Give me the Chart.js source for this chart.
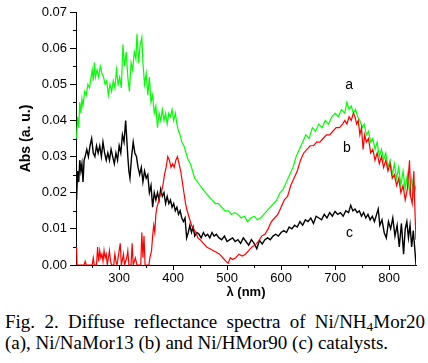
<!DOCTYPE html>
<html>
<head>
<meta charset="utf-8">
<script src="https://cdn.jsdelivr.net/npm/chart.js@4.4.1/dist/chart.umd.min.js"></script>
<style>
  html, body { margin: 0; padding: 0; background: #fff; }
  #wrap { position: relative; width: 428px; height: 363px; overflow: hidden; }
  #chart { position: absolute; left: 0; top: 0; }
  .caption { position: absolute; left: 5px; top: 311px; width: 420px;
    font-family: "Liberation Serif", "Times New Roman", serif; font-size: 19px; line-height: 21px; color: #000; }
  .caption .l1 { text-align: justify; text-align-last: justify; }
  .caption sub { font-size: 0.7em; line-height: 0; vertical-align: -0.25em; }
</style>
</head>
<body>
<div id="wrap">
  <canvas id="chart" width="428" height="300"></canvas>
  <div class="caption">
    <div class="l1">Fig. 2. Diffuse reflectance spectra of Ni/NH<sub>4</sub>Mor20</div>
    <div>(a), Ni/NaMor13 (b) and Ni/HMor90 (c) catalysts.</div>
  </div>
</div>
<script>
// wavelength (nm) / absorbance
const lambdaA = [221,223,225,227,229,231,233,236,239,242,245,248,250,252,254,256,259,262,265,268,271,274,277,280,283,286,289,292,295,298,301,304,307,310,313,316,319,322,325,328,331,333,336,339,342,344,347,350,353,356,359,362,365,368,371,374,377,380,383,386,389,392,395,398,401,404,407,410,413,416,420,424,428,432,436,440,445,450,455,460,466,472,478,484,490,496,502,508,514,520,526,532,538,544,550,556,562,568,574,580,586,592,598,604,610,616,622,628,634,640,646,652,658,664,670,676,682,688,694,700,706,712,718,722,726,730,734,738,742,746,750,754,758,762,766,770,774,778,782,786,790,794,798,802,806,810,814,818,822,826,830,834,838,842,846,850];
const absA = [0.035,0.041,0.038,0.045,0.042,0.046,0.044,0.048,0.047,0.050,0.049,0.052,0.054,0.051,0.056,0.052,0.054,0.052,0.055,0.053,0.052,0.050,0.051,0.047,0.050,0.048,0.051,0.049,0.054,0.050,0.052,0.049,0.061,0.055,0.059,0.052,0.048,0.056,0.054,0.059,0.057,0.064,0.056,0.061,0.063,0.056,0.050,0.053,0.047,0.052,0.045,0.047,0.042,0.044,0.038,0.042,0.040,0.043,0.040,0.042,0.039,0.042,0.041,0.043,0.040,0.042,0.039,0.037,0.036,0.034,0.033,0.031,0.029,0.028,0.026,0.024,0.023,0.022,0.021,0.020,0.019,0.018,0.017,0.017,0.016,0.015,0.015,0.014,0.0145,0.014,0.013,0.0135,0.012,0.013,0.0135,0.0125,0.013,0.014,0.015,0.016,0.017,0.018,0.020,0.021,0.023,0.025,0.027,0.030,0.032,0.034,0.036,0.035,0.038,0.037,0.039,0.038,0.040,0.039,0.041,0.042,0.041,0.043,0.042,0.045,0.043,0.044,0.042,0.043,0.041,0.040,0.038,0.039,0.036,0.037,0.034,0.035,0.032,0.034,0.030,0.032,0.029,0.031,0.027,0.029,0.025,0.028,0.024,0.027,0.022,0.026,0.021,0.025,0.020,0.024,0.019,0.022];

const lambdaB = [221,222,235,237,239,250,252,254,258,260,262,264,266,268,270,272,274,276,278,280,282,284,286,290,292,294,296,300,302,304,308,310,314,316,318,322,324,326,330,333,340,342,344,346,348,355,357,360,362,364,366,368,370,372,375,378,381,384,387,390,393,396,399,402,405,408,411,414,417,420,423,426,430,434,438,442,446,450,456,462,468,474,480,486,492,498,502,506,510,516,522,528,534,540,546,552,558,564,570,576,582,588,594,600,606,612,618,624,630,636,642,648,654,660,666,672,678,684,690,696,702,708,714,718,722,726,730,734,737,740,743,746,749,752,755,758,762,766,770,774,778,782,786,790,794,798,802,806,810,814,818,822,826,830,834,838,840,843,846,848,850];
const absB = [0.005,0.000,0.000,0.001,0.000,0.000,0.002,0.000,0.000,0.005,0.001,0.004,0.002,0.003,0.001,0.004,0.002,0.003,0.000,0.002,0.004,0.001,0.000,0.000,0.003,0.001,0.000,0.004,0.006,0.000,0.003,0.000,0.002,0.004,0.000,0.000,0.006,0.000,0.002,0.000,0.000,0.009,0.002,0.008,0.000,0.000,0.002,0.004,0.008,0.011,0.009,0.014,0.016,0.017,0.019,0.020,0.022,0.025,0.027,0.030,0.029,0.027,0.028,0.027,0.029,0.030,0.028,0.026,0.023,0.020,0.017,0.015,0.013,0.011,0.010,0.009,0.0075,0.007,0.006,0.005,0.0045,0.004,0.0035,0.003,0.002,0.001,0.0005,0.002,0.0015,0.002,0.003,0.0025,0.003,0.004,0.005,0.0055,0.0065,0.008,0.0085,0.010,0.012,0.013,0.014,0.016,0.018,0.019,0.022,0.024,0.026,0.029,0.031,0.032,0.033,0.033,0.034,0.034,0.035,0.036,0.036,0.037,0.038,0.038,0.039,0.040,0.039,0.041,0.040,0.042,0.041,0.039,0.040,0.036,0.038,0.032,0.036,0.034,0.035,0.031,0.032,0.029,0.031,0.028,0.030,0.027,0.029,0.026,0.028,0.024,0.025,0.022,0.024,0.020,0.022,0.018,0.021,0.029,0.019,0.017,0.026,0.015,0.007];

const lambdaC = [221,223,225,227,229,231,233,235,237,240,243,246,249,252,255,258,261,264,267,270,273,276,279,282,285,288,291,294,297,300,303,306,309,312,314,316,318,320,323,326,329,332,335,338,341,344,347,350,353,356,359,362,365,368,371,374,377,380,383,386,389,392,395,398,401,404,407,410,413,416,419,422,425,428,431,434,437,440,444,448,452,456,460,464,468,472,476,480,485,490,495,500,505,510,515,520,525,530,535,540,545,550,555,560,565,570,575,580,585,590,595,600,605,610,615,620,625,630,635,640,645,650,655,660,665,670,675,680,685,690,695,700,705,710,715,720,725,729,733,737,741,745,749,753,757,761,765,769,773,777,780,783,787,791,795,799,803,807,811,815,819,823,827,830,833,836,839,842,845,848,850];
const absC = [0.018,0.026,0.023,0.029,0.026,0.028,0.023,0.029,0.030,0.032,0.030,0.033,0.035,0.031,0.030,0.033,0.031,0.033,0.030,0.034,0.031,0.029,0.031,0.029,0.032,0.030,0.028,0.031,0.029,0.033,0.031,0.036,0.034,0.040,0.035,0.030,0.026,0.024,0.030,0.034,0.031,0.030,0.027,0.025,0.027,0.023,0.026,0.024,0.025,0.020,0.022,0.016,0.020,0.018,0.020,0.018,0.021,0.019,0.020,0.017,0.019,0.017,0.018,0.016,0.017,0.015,0.016,0.014,0.015,0.013,0.012,0.013,0.0075,0.009,0.011,0.009,0.0105,0.008,0.009,0.0085,0.0075,0.009,0.008,0.0085,0.0075,0.009,0.008,0.0085,0.0075,0.007,0.008,0.0065,0.007,0.0075,0.0065,0.007,0.006,0.0075,0.0065,0.0055,0.007,0.006,0.0045,0.0068,0.0058,0.007,0.0075,0.007,0.008,0.0085,0.008,0.009,0.0095,0.009,0.0105,0.010,0.011,0.0105,0.012,0.011,0.0125,0.012,0.013,0.0115,0.0135,0.013,0.0125,0.014,0.013,0.0145,0.0135,0.0148,0.014,0.0145,0.0135,0.015,0.0145,0.0165,0.015,0.0155,0.0145,0.015,0.0135,0.0145,0.013,0.014,0.0125,0.0135,0.012,0.014,0.0155,0.011,0.0125,0.009,0.0075,0.012,0.010,0.013,0.008,0.011,0.005,0.0115,0.003,0.010,0.012,0.0075,0.011,0.005,0.0095,0.004,0.000];

const xTicks = [300, 400, 500, 600, 700, 800];
const xMinor = [250, 350, 450, 550, 650, 750];
const yTicks = [0, 0.01, 0.02, 0.03, 0.04, 0.05, 0.06, 0.07];
const yMinor = [0.005, 0.015, 0.025, 0.035, 0.045, 0.055, 0.065];
const curveLetters = [
  { text: 'a', x: 726, y: 0.0497 },
  { text: 'b', x: 722, y: 0.0322 },
  { text: 'c', x: 727, y: 0.0089 }
];

const toPoints = (xs, ys) => xs.map((v, i) => ({ x: v, y: ys[i] }));
const axisFont = { family: '"Liberation Sans", Arial, sans-serif', size: 13 };

const extraMarks = {
  id: 'extraMarks',
  afterDraw(chart) {
    const { ctx, scales: { x, y } } = chart;
    ctx.save();
    ctx.strokeStyle = '#000';
    ctx.lineWidth = 1;
    ctx.beginPath();
    xMinor.forEach(v => {
      const px = Math.round(x.getPixelForValue(v)) + 0.5;
      ctx.moveTo(px, y.bottom);
      ctx.lineTo(px, y.bottom + 3);
    });
    yMinor.forEach(v => {
      const py = Math.round(y.getPixelForValue(v)) + 0.5;
      ctx.moveTo(x.left, py);
      ctx.lineTo(x.left - 3, py);
    });
    ctx.stroke();
    ctx.font = '14px "Liberation Sans", Arial, sans-serif';
    ctx.fillStyle = '#000';
    ctx.textAlign = 'center';
    ctx.textBaseline = 'middle';
    curveLetters.forEach(l => {
      ctx.fillText(l.text, x.getPixelForValue(l.x), y.getPixelForValue(l.y));
    });
    ctx.restore();
  }
};

new Chart(document.getElementById('chart'), {
  type: 'scatter',
  data: {
    datasets: [
      { label: 'b', data: toPoints(lambdaB, absB), borderColor: '#ff0000' },
      { label: 'c', data: toPoints(lambdaC, absC), borderColor: '#000000', borderWidth: 1.4 },
      { label: 'a', data: toPoints(lambdaA, absA), borderColor: '#00ff00' }
    ]
  },
  options: {
    responsive: false,
    animation: false,
    showLine: true,
    layout: { padding: { top: 12, right: 12, left: 0, bottom: 0 } },
    elements: {
      point: { radius: 0, hoverRadius: 0 },
      line: { borderWidth: 1.2, tension: 0 }
    },
    plugins: {
      legend: { display: false },
      tooltip: { enabled: false }
    },
    scales: {
      x: {
        type: 'linear',
        min: 220,
        max: 850,
        afterBuildTicks: s => { s.ticks = xTicks.map(v => ({ value: v })); },
        afterFit: s => { s.height = 35; },
        ticks: { color: '#000', font: axisFont, padding: 1, maxRotation: 0 },
        grid: { drawOnChartArea: false, drawTicks: true, tickLength: 5, color: '#000' },
        border: { color: '#000', width: 1 },
        title: {
          display: true,
          text: 'λ (nm)',
          color: '#000',
          font: { family: '"Liberation Sans", Arial, sans-serif', size: 13, weight: 'bold' },
          padding: { top: 0, bottom: 0 }
        }
      },
      y: {
        min: 0,
        max: 0.07,
        afterBuildTicks: s => { s.ticks = yTicks.map(v => ({ value: v })); },
        afterFit: s => { s.width = 76; },
        ticks: { color: '#000', font: axisFont, padding: 3, callback: v => v.toFixed(2) },
        grid: { drawOnChartArea: false, drawTicks: true, tickLength: 6, color: '#000' },
        border: { color: '#000', width: 1 },
        title: {
          display: true,
          text: 'Abs (a. u.)',
          color: '#000',
          font: { family: '"Liberation Sans", Arial, sans-serif', size: 14, weight: 'bold' },
          padding: { top: 18, bottom: 0 }
        }
      }
    }
  },
  plugins: [extraMarks]
});
</script>
</body>
</html>
